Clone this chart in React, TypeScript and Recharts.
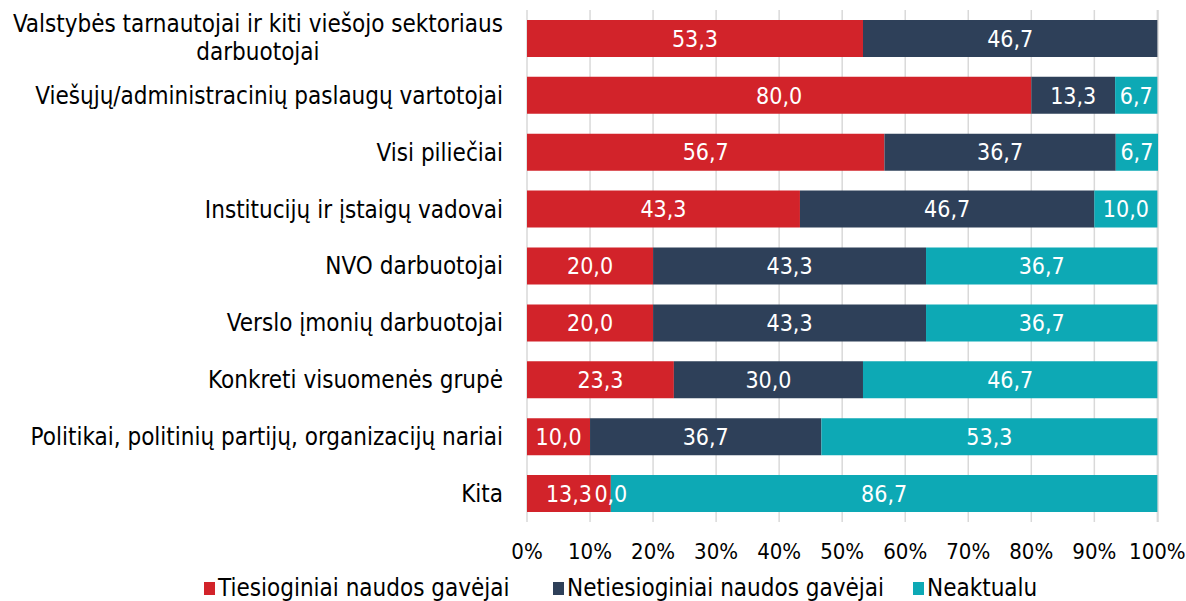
import React from "react";
import {
  BarChart,
  Bar,
  XAxis,
  YAxis,
  CartesianGrid,
  LabelList,
  Legend,
} from "recharts";

const FONT = '"DejaVu Sans Condensed", "DejaVu Sans", sans-serif';
const TICK_FS = 24;
const X_FS = 22;
const VAL_FS = 23;
const LEG_FS = 24;

const categories = [
  "Valstybės tarnautojai ir kiti viešojo sektoriaus darbuotojai",
  "Viešųjų/administracinių paslaugų vartotojai",
  "Visi piliečiai",
  "Institucijų ir įstaigų vadovai",
  "NVO darbuotojai",
  "Verslo įmonių darbuotojai",
  "Konkreti visuomenės grupė",
  "Politikai, politinių partijų, organizacijų nariai",
  "Kita",
];
const categoryLines: Record<string, string[]> = {
  "Valstybės tarnautojai ir kiti viešojo sektoriaus darbuotojai": [
    "Valstybės tarnautojai ir kiti viešojo sektoriaus",
    "darbuotojai",
  ],
};

const direct = [53.3, 80.0, 56.7, 43.3, 20.0, 20.0, 23.3, 10.0, 13.3];
const indirect = [46.7, 13.3, 36.7, 46.7, 43.3, 43.3, 30.0, 36.7, 0.0];
const notRelevant: (number | null)[] = [null, 6.7, 6.7, 10.0, 36.7, 36.7, 46.7, 53.3, 86.7];

const xTicks = [0, 10, 20, 30, 40, 50, 60, 70, 80, 90, 100];

const seriesNames = ["Tiesioginiai naudos gavėjai", "Netiesioginiai naudos gavėjai", "Neaktualu"];
const seriesColors = ["#D2232A", "#2E4059", "#0DA9B5"];

const data = categories.map((c, i) => ({
  name: c,
  direct: direct[i],
  indirect: indirect[i],
  notRelevant: notRelevant[i],
}));

let ctx: CanvasRenderingContext2D | null = null;
const measure = (t: string) => {
  if (!ctx) ctx = document.createElement("canvas").getContext("2d");
  if (!ctx) return t.length * 10;
  ctx.font = `${TICK_FS}px ${FONT}`;
  return ctx.measureText(t).width;
};

const CategoryTick = (props: any) => {
  const { x, y, payload } = props;
  const lines = categoryLines[payload.value] || [payload.value];
  if (lines.length === 1) {
    return (
      <text x={x} y={y} dy="0.35em" textAnchor="end" fontFamily={FONT} fontSize={TICK_FS} fill="#000">
        {lines[0]}
      </text>
    );
  }
  const w = measure(lines[0]);
  return (
    <g>
      <text x={x} y={y - 15} dy="0.35em" textAnchor="end" fontFamily={FONT} fontSize={TICK_FS} fill="#000">
        {lines[0]}
      </text>
      <text x={x - w / 2} y={y + 13} dy="0.35em" textAnchor="middle" fontFamily={FONT} fontSize={TICK_FS} fill="#000">
        {lines[1]}
      </text>
    </g>
  );
};

const fmt = (v: any) => (v === null || v === undefined ? "" : Number(v).toFixed(1).replace(".", ","));

// Zero-width "indirect" segment label, centred on the boundary where it would sit.
const ZeroIndirectLabel = (p: any) => {
  if (p.value !== 0) return null;
  const { x, y, height } = p;
  return (
    <text x={x} y={y + height / 2} dy="0.35em" textAnchor="middle" fill="#fff" fontFamily={FONT} fontSize={VAL_FS}>
      {fmt(p.value)}
    </text>
  );
};

const LegendContent = () => (
  <div style={{ height: 41, display: "flex", alignItems: "flex-end", paddingLeft: 204, boxSizing: "border-box" }}>
    {seriesNames.map((n, i) => (
      <div
        key={n}
        style={{
          display: "flex",
          alignItems: "center",
          width: i === 0 ? 349 : i === 1 ? 360 : 200,
          fontFamily: FONT,
          fontSize: LEG_FS,
          color: "#000",
          lineHeight: "26px",
        }}
      >
        <span style={{ display: "inline-block", width: 11, height: 13, background: seriesColors[i], marginRight: 3 }} />
        {n}
      </div>
    ))}
  </div>
);

export default function App() {
  return (
    <div style={{ position: "fixed", left: 0, top: 0, width: 1186, height: 601, background: "#fff", overflow: "hidden" }}>
      <BarChart
        width={1186}
        height={601}
        data={data}
        layout="vertical"
        margin={{ top: 10, right: 28, bottom: 0, left: 0 }}
        barCategoryGap="17.5%"
      >
        <CartesianGrid horizontal={false} stroke="#D9D9D9" strokeWidth={1.5} />
        <XAxis
          type="number"
          domain={[0, 100]}
          ticks={xTicks}
          tickFormatter={(v) => `${v}%`}
          axisLine={false}
          tickLine={false}
          tickMargin={15}
          height={38}
          tick={{ fontFamily: FONT, fontSize: X_FS, fill: "#000" }}
          interval={0}
        />
        <YAxis
          type="category"
          dataKey="name"
          width={527}
          axisLine={false}
          tickLine={false}
          tickMargin={18}
          tick={<CategoryTick />}
          interval={0}
        />
        <Legend verticalAlign="bottom" content={<LegendContent />} />
        <Bar dataKey="direct" name={seriesNames[0]} stackId="a" fill={seriesColors[0]} isAnimationActive={false}>
          <LabelList dataKey="direct" position="center" formatter={fmt} fill="#fff" style={{ fontFamily: FONT, fontSize: VAL_FS }} />
        </Bar>
        <Bar dataKey="indirect" name={seriesNames[1]} stackId="a" fill={seriesColors[1]} isAnimationActive={false}>
          <LabelList
            dataKey="indirect"
            position="center"
            formatter={(v: any) => (v ? fmt(v) : "")}
            fill="#fff"
            style={{ fontFamily: FONT, fontSize: VAL_FS }}
          />
        </Bar>
        <Bar dataKey="notRelevant" name={seriesNames[2]} stackId="a" fill={seriesColors[2]} isAnimationActive={false}>
          <LabelList dataKey="notRelevant" position="center" formatter={fmt} fill="#fff" style={{ fontFamily: FONT, fontSize: VAL_FS }} />
          <LabelList dataKey="indirect" content={<ZeroIndirectLabel />} />
        </Bar>
      </BarChart>
    </div>
  );
}
